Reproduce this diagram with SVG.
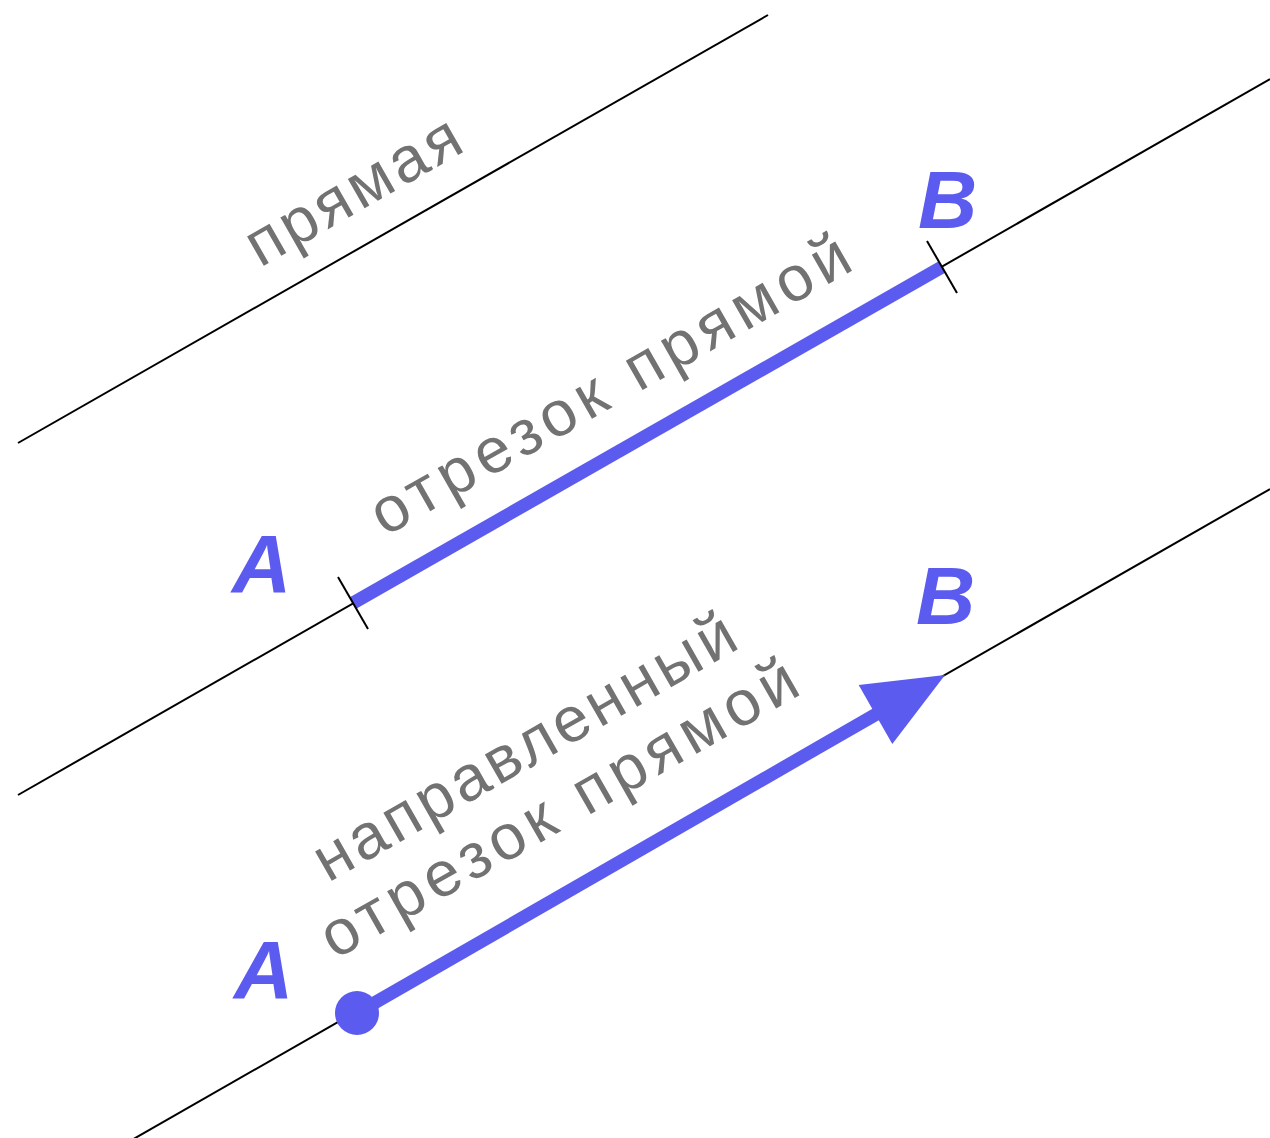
<svg xmlns="http://www.w3.org/2000/svg" width="1270" height="1138" viewBox="0 0 1270 1138">
<style>
.ln{stroke:#000;stroke-width:2;fill:none}
.seg{stroke:#5B5BEF;stroke-width:13;fill:none}
.lbl{font-family:"Liberation Sans",Arial,sans-serif;font-size:64px;fill:#727272}
.pt{font-family:"Liberation Sans",Arial,sans-serif;font-size:82px;font-weight:bold;font-style:italic;fill:#5B5BEF}
</style>
<rect width="1270" height="1138" fill="#fff"/>
<g id="connectors">
<line class="ln" x1="18" y1="443" x2="768" y2="15"/>
<line class="ln" x1="18" y1="795" x2="1270" y2="79"/>
<line class="ln" x1="130" y1="1141" x2="1270" y2="489"/>
</g>
<g id="line-label">
<text class="lbl" transform="translate(260 268) rotate(-29.7)" textLength="238" lengthAdjust="spacing">прямая</text>
</g>
<g id="segment">
<line class="seg" x1="353" y1="603" x2="942" y2="267"/>
<line class="ln" x1="338" y1="577" x2="368" y2="629"/>
<line class="ln" x1="927" y1="241" x2="957" y2="293"/>
<text class="pt" x="232" y="592">A</text>
<text class="pt" x="918" y="228">B</text>
<text class="lbl" transform="translate(385 537) rotate(-29.7)" textLength="542" lengthAdjust="spacing">отрезок прямой</text>
</g>
<g id="directed-segment">
<line class="seg" x1="357" y1="1013" x2="880" y2="712"/>
<polygon points="945,675 858.7,685.1 892.3,744.1" fill="#5B5BEF"/>
<circle cx="357" cy="1013" r="22" fill="#5B5BEF"/>
<text class="pt" x="234" y="998">A</text>
<text class="pt" x="916" y="624">B</text>
<text class="lbl" transform="translate(328 883) rotate(-29.7)" textLength="476" lengthAdjust="spacing">направленный</text>
<text class="lbl" transform="translate(335 960) rotate(-29.7)" textLength="539" lengthAdjust="spacing">отрезок прямой</text>
</g>
</svg>
